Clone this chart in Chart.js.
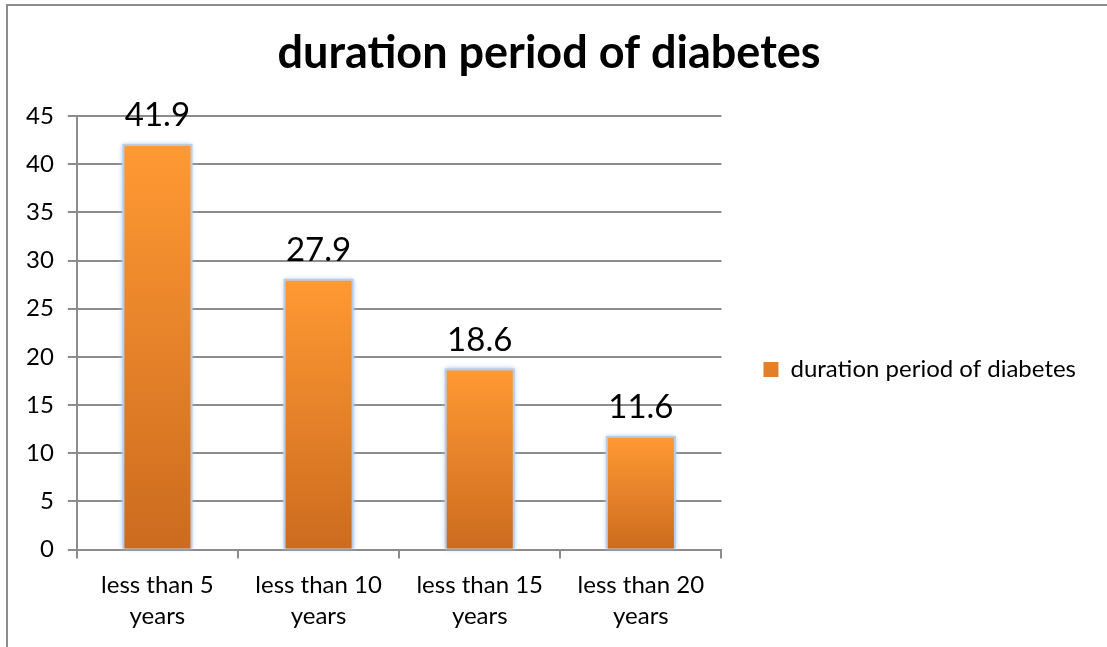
<!DOCTYPE html>
<html>
<head>
<meta charset="utf-8">
<script src="https://cdn.jsdelivr.net/npm/chart.js@4.4.0/dist/chart.umd.min.js"></script>
<style>
    html, body { margin: 0; padding: 0; background: #fff; overflow: hidden; }
    .frame {
        position: absolute; left: 6px; top: 4px; width: 1200px; height: 800px;
        border-left: 2px solid #8c8c8c; border-top: 2px solid #8c8c8c;
    }
    .chart-box { position: absolute; left: 0; top: 0; width: 1107px; height: 647px; }
</style>
</head>
<body>
<div class="frame"></div>
<div class="chart-box"><canvas id="myChart"></canvas></div>
<script>
    // data
    const categories = [['less than 5', 'years'], ['less than 10', 'years'], ['less than 15', 'years'], ['less than 20', 'years']];
    const values = [41.9, 27.9, 18.6, 11.6];
    const yTicks = [0, 5, 10, 15, 20, 25, 30, 35, 40, 45];
    const seriesName = 'duration period of diabetes';

    const fontName = 'Lato, "Open Sans", sans-serif';

    function barGradient(context) {
        const chart = context.chart;
        if (!chart.chartArea || context.type !== 'data') return '#f28a2a';
        const y = chart.scales.y;
        const top = y.getPixelForValue(context.raw);
        const bottom = y.getPixelForValue(0);
        const g = chart.ctx.createLinearGradient(0, top, 0, bottom);
        g.addColorStop(0, '#ff9933');
        g.addColorStop(1, '#cc6b1f');
        return g;
    }

    // soft blue glow round each bar, like the office chart
    const glowPlugin = {
        id: 'glow',
        beforeDatasetDraw(chart) {
            const ctx = chart.ctx;
            const meta = chart.getDatasetMeta(0);
            ctx.save();
            ctx.fillStyle = 'rgba(185, 205, 232, 1)';
            ctx.shadowColor = 'rgba(175, 198, 230, 1)';
            ctx.shadowBlur = 5;
            meta.data.forEach(bar => {
                ctx.fillRect(bar.x - bar.width / 2 - 2, bar.y - 2, bar.width + 4, bar.base - bar.y + 2);
            });
            ctx.restore();
        }
    };

    // value labels above the bars
    const valueLabels = {
        id: 'valueLabels',
        afterDatasetsDraw(chart) {
            const ctx = chart.ctx;
            const meta = chart.getDatasetMeta(0);
            ctx.save();
            ctx.font = '33px ' + fontName;
            ctx.fillStyle = '#000';
            ctx.textAlign = 'center';
            ctx.textBaseline = 'bottom';
            meta.data.forEach((bar, i) => {
                ctx.fillText(values[i].toFixed(1), bar.x, bar.y - 14);
            });
            ctx.restore();
        }
    };

    const ctx = document.getElementById('myChart').getContext('2d');
    const myChart = new Chart(ctx, {
        type: 'bar',
        data: {
            labels: categories,
            datasets: [{
                label: seriesName,
                data: values,
                backgroundColor: barGradient,
                borderWidth: 0,
                categoryPercentage: 1,
                barPercentage: 0.41
            }]
        },
        options: {
            responsive: true,
            maintainAspectRatio: false,
            animation: false,
            layout: { padding: { left: 12, right: 21, top: 0, bottom: 4 } },
            plugins: {
                title: {
                    display: true,
                    text: seriesName,
                    color: '#000',
                    font: { family: fontName, size: 45, weight: 'bold' },
                    padding: { top: 26, bottom: 36 }
                },
                legend: {
                    position: 'right',
                    maxWidth: 420,
                    // blank title only pushes the entry down a little
                    title: {
                        display: true,
                        text: ' ',
                        padding: 0,
                        font: { size: 96, lineHeight: 1 }
                    },
                    labels: {
                        color: '#000',
                        font: { family: fontName, size: 24 },
                        boxWidth: 15,
                        boxHeight: 15,
                        padding: 42
                    }
                },
                tooltip: { enabled: false }
            },
            scales: {
                x: {
                    offset: true,
                    grid: {
                        display: true,
                        offset: true,
                        drawOnChartArea: false,
                        color: '#8c8c8c',
                        lineWidth: 2,
                        tickLength: 9
                    },
                    border: { color: '#8c8c8c', width: 2 },
                    ticks: {
                        color: '#000',
                        font: { family: fontName, size: 24, lineHeight: 1.3 },
                        padding: 11,
                        maxRotation: 0
                    }
                },
                y: {
                    min: 0,
                    max: 45,
                    afterBuildTicks(axis) {
                        axis.ticks = yTicks.map(v => ({ value: v }));
                    },
                    grid: {
                        color: '#8c8c8c',
                        lineWidth: 2,
                        tickLength: 9
                    },
                    border: { color: '#8c8c8c', width: 2 },
                    ticks: {
                        color: '#000',
                        font: { family: fontName, size: 24 },
                        padding: 14
                    }
                }
            }
        },
        plugins: [glowPlugin, valueLabels]
    });
</script>
</body>
</html>
